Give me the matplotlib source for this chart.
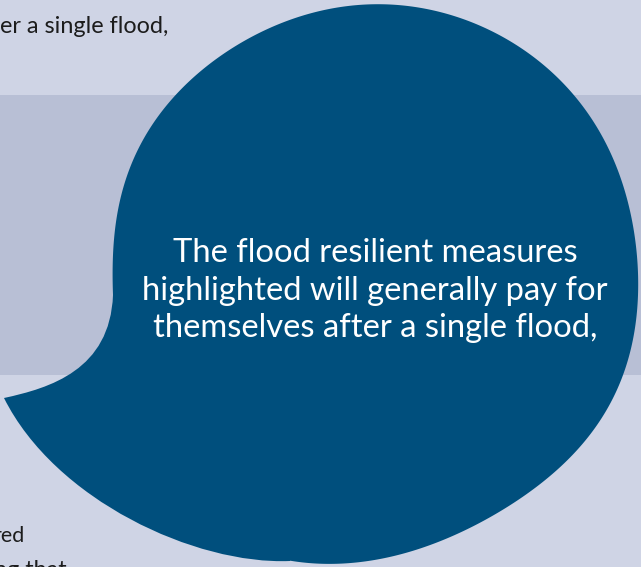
import numpy as np
import matplotlib
matplotlib.use("Agg")
import matplotlib.pyplot as plt
from matplotlib.path import Path
import matplotlib.patches as patches

W, H = 641, 567

# callout text and the clipped page text around it
bubble_lines = ["The flood resilient measures",
                "highlighted will generally pay for",
                "themselves after a single flood,"]
top_text = "er a single flood,"
bottom_lines = ["red", "ng that"]

# edge of the round part of the bubble (pixels, y down)
body_x = [113, 114, 122, 152, 180, 233, 313, 375, 420, 470, 520, 570, 603,
          627, 637, 635, 620, 588, 533, 467, 400, 340, 300, 250, 200, 160,
          130, 117]
body_y = [290, 257, 190, 123, 91, 50, 10, 4, 10, 23, 43, 93, 140, 193, 277,
          333, 383, 436, 490, 530, 553, 564, 563, 550, 522, 478, 420, 350]

# tail: tip, upper edge (two controls + join), lower edge (two controls + join)
tail_tip = (4, 398)
tail_upper = [(50, 388), (110, 370), (113, 295)]
tail_lower = [(55, 500), (195, 565), (290, 561)]

bg_color = '#cfd4e5'
band_color = '#b8bfd5'
bubble_color = '#004f7d'
text_dark = '#1c1c1c'


def body_path(xs, ys, cx=375, cy=290, order=6):
    """Smooth closed outline: Fourier fit of radius against angle."""
    xs = np.asarray(xs, float)
    ys = np.asarray(ys, float)
    th = np.arctan2(ys - cy, xs - cx)
    r = np.hypot(xs - cx, ys - cy)

    def design(t):
        cols = [np.ones_like(t)]
        for k in range(1, order + 1):
            cols += [np.cos(k * t), np.sin(k * t)]
        return np.column_stack(cols)

    coef, *_ = np.linalg.lstsq(design(th), r, rcond=None)
    t = np.linspace(-np.pi, np.pi, 721)
    rr = design(t) @ coef
    verts = np.column_stack([cx + rr * np.cos(t), cy + rr * np.sin(t)])
    return Path(verts, closed=True)


def tail_path():
    c1, c2, p1 = tail_upper
    d1, d2, p2 = tail_lower
    verts = [tail_tip, c1, c2, p1, (330, 420), p2, d2, d1, tail_tip,
             tail_tip]
    codes = [Path.MOVETO, Path.CURVE4, Path.CURVE4, Path.CURVE4,
             Path.LINETO, Path.LINETO, Path.CURVE4, Path.CURVE4,
             Path.CURVE4, Path.CLOSEPOLY]
    return Path(verts, codes)


fig = plt.figure(figsize=(W / 100, H / 100), dpi=100)
fig.patch.set_facecolor(bg_color)
ax = fig.add_axes([0, 0, 1, 1])
ax.set_xlim(0, W)
ax.set_ylim(H, 0)
ax.axis('off')

ax.add_patch(patches.Rectangle((0, 95), W, 280, color=band_color, lw=0))
ax.add_patch(patches.PathPatch(body_path(body_x, body_y),
                               facecolor=bubble_color, edgecolor='none'))
ax.add_patch(patches.PathPatch(tail_path(),
                               facecolor=bubble_color, edgecolor='none'))

for i, line in enumerate(bubble_lines):
    ax.text(375, 262 + i * 37.5, line, color='white', fontsize=23.6,
            family='Lato', ha='center', va='baseline')

ax.text(168, 33, top_text, color=text_dark, fontsize=16.8, family='Lato',
        ha='right', va='baseline')
ax.text(25, 542, bottom_lines[0], color=text_dark, fontsize=15.5,
        family='Lato', ha='right', va='baseline')
ax.text(67, 577, bottom_lines[1], color=text_dark, fontsize=16.8,
        family='Lato', ha='right', va='baseline')

fig.savefig('out.png', dpi=100, facecolor=bg_color)
